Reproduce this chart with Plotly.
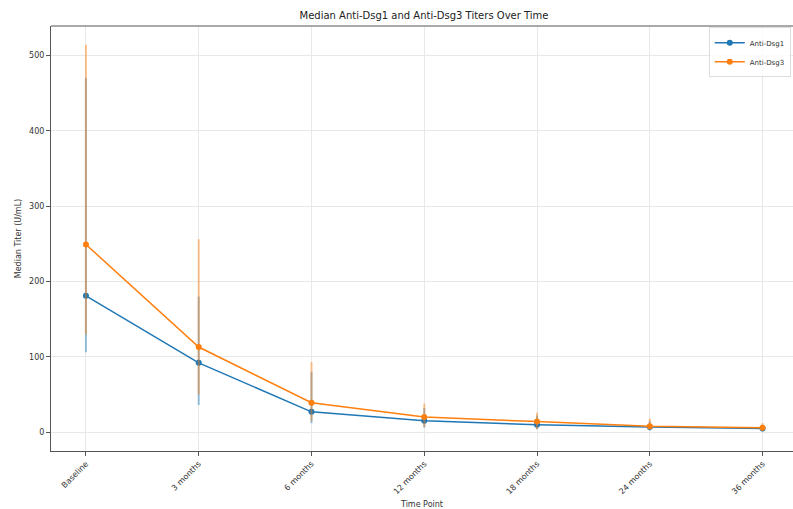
import plotly.graph_objects as go

time_points = ["Baseline", "3 months", "6 months", "12 months", "18 months", "24 months", "36 months"]

dsg1_median = [181, 92, 27, 15, 10, 7, 5]
dsg1_lower = [106, 36, 12, 6, 4, 2, 1]
dsg1_upper = [470, 180, 80, 32, 22, 15, 10]

dsg3_median = [249, 113, 39, 20, 14, 8, 6]
dsg3_lower = [130, 50, 15, 7, 4, 3, 2]
dsg3_upper = [514, 256, 93, 38, 26, 18, 12]

x_idx = list(range(len(time_points)))


def err(med, lo, hi):
    return ([h - m for m, h in zip(med, hi)], [m - l for m, l in zip(med, lo)])


blue = "#1f77b4"
orange = "#ff7f0e"

fig = go.Figure()
for name, med, lo, hi, col, ecol in [
    ("Anti-Dsg1", dsg1_median, dsg1_lower, dsg1_upper, blue, "rgba(31,119,180,0.45)"),
    ("Anti-Dsg3", dsg3_median, dsg3_lower, dsg3_upper, orange, "rgba(255,127,14,0.45)"),
]:
    up, down = err(med, lo, hi)
    fig.add_trace(go.Scatter(
        x=x_idx, y=med, name=name, mode="lines+markers",
        line=dict(color=col, width=1.5),
        marker=dict(color=col, size=6),
        error_y=dict(type="data", symmetric=False, array=up, arrayminus=down,
                     color=ecol, thickness=2, width=0),
    ))

fig.update_layout(
    width=793, height=509,
    margin=dict(l=51, r=0, t=26, b=58),
    plot_bgcolor="white", paper_bgcolor="white",
    font=dict(family="DejaVu Sans", size=8, color="#333"),
    title=dict(text="Median Anti-Dsg1 and Anti-Dsg3 Titers Over Time",
               x=424 / 793, xanchor="center", y=1 - 15 / 509, yanchor="middle",
               font=dict(size=10, color="#222")),
    showlegend=True,
    legend=dict(x=0.997, y=0.997, xanchor="right", yanchor="top",
                bordercolor="#dddddd", borderwidth=1, bgcolor="rgba(255,255,255,0.8)",
                font=dict(size=7), tracegroupgap=0, itemwidth=30),
    shapes=[dict(type="line", xref="paper", yref="paper", x0=0, x1=1, y0=1, y1=1,
                 line=dict(color="#555", width=1))],
)
fig.update_xaxes(
    range=[-0.31, 6.27], tickmode="array", tickvals=x_idx, ticktext=time_points,
    tickangle=-45, showgrid=True, gridcolor="#e8e8e8", gridwidth=1,
    showline=True, linecolor="#555", linewidth=1, mirror=False,
    ticks="outside", ticklen=4, tickcolor="#555", zeroline=False,
    title=dict(text="Time Point", font=dict(size=8), standoff=8),
)
fig.update_yaxes(
    range=[-25, 539], tickvals=[0, 100, 200, 300, 400, 500],
    showgrid=True, gridcolor="#e8e8e8", gridwidth=1,
    showline=True, linecolor="#555", linewidth=1,
    ticks="outside", ticklen=4, tickcolor="#555", zeroline=False,
    title=dict(text="Median Titer (U/mL)", font=dict(size=8), standoff=6),
)

fig.write_html("out.html")
